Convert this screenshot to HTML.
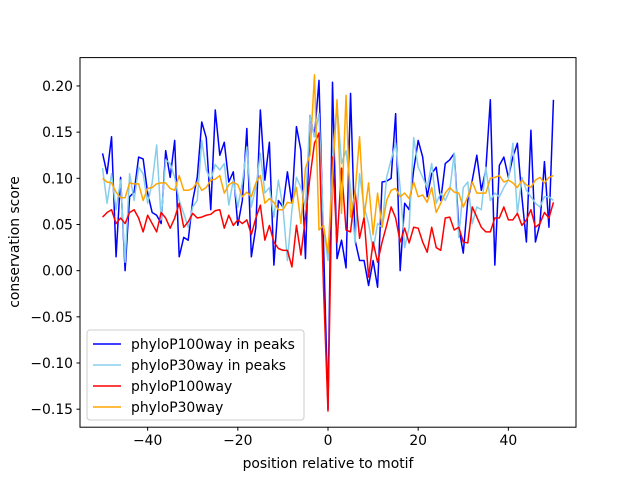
<!DOCTYPE html>
<html><head><meta charset="utf-8"><style>
body{margin:0;background:#fff}
svg{display:block;font-family:"DejaVu Sans","Liberation Sans",sans-serif}
</style></head><body>
<svg id="chart" width="640" height="480" xmlns="http://www.w3.org/2000/svg">
<rect width="640" height="480" fill="#fff"/>
<g id="marks"></g>
<rect x="80" y="57.6" width="496" height="369.6" fill="none" stroke="#000" stroke-width="1"/>
<g id="axes"></g>
<text x="328" y="468" font-size="13.9" text-anchor="middle">position relative to motif</text>
<text transform="translate(19,242) rotate(-90)" font-size="13.9" text-anchor="middle">conservation score</text>
<g>
<rect x="87" y="330" width="217" height="90" rx="3" fill="#fff" fill-opacity="0.8" stroke="#ccc"/>
<line x1="93" y1="344" x2="121" y2="344" stroke="#0000ff" stroke-width="1.5"/>
<text x="131" y="349" font-size="13.9">phyloP100way in peaks</text>
<line x1="93" y1="365" x2="121" y2="365" stroke="#87ceeb" stroke-width="1.5"/>
<text x="131" y="370" font-size="13.9">phyloP30way in peaks</text>
<line x1="93" y1="386" x2="121" y2="386" stroke="#ff0000" stroke-width="1.5"/>
<text x="131" y="391" font-size="13.9">phyloP100way</text>
<line x1="93" y1="407" x2="121" y2="407" stroke="#ffa500" stroke-width="1.5"/>
<text x="131" y="412" font-size="13.9">phyloP30way</text>
</g>
</svg>
<script>
const xStart = -50;
const blueVals = [0.127,0.105,0.145,0.015,0.101,0.0,0.08,0.085,0.123,0.121,0.084,0.063,0.06,0.051,0.13,0.101,0.141,0.015,0.036,0.033,0.076,0.101,0.161,0.144,0.066,0.174,0.125,0.139,0.096,0.107,0.049,0.076,0.154,0.015,0.047,0.174,0.098,0.139,0.006,0.076,0.069,0.107,0.073,0.156,0.13,0.013,0.168,0.145,0.206,0.03,-0.15,0.204,0.013,0.033,0.003,0.192,0.033,0.011,0.011,-0.016,0.011,-0.018,0.096,0.097,0.1,0.17,0.0,0.073,0.066,0.109,0.141,0.123,0.08,0.105,0.112,0.076,0.116,0.12,0.127,0.047,0.019,0.076,0.098,0.125,0.087,0.109,0.185,0.006,0.114,0.123,0.101,0.123,0.138,0.08,0.031,0.152,0.031,0.051,0.118,0.047,0.185];
const lightBlueVals = [0.111,0.073,0.105,0.066,0.098,0.009,0.105,0.076,0.112,0.105,0.073,0.095,0.136,0.055,0.12,0.116,0.101,0.076,0.062,0.047,0.069,0.076,0.141,0.109,0.098,0.115,0.109,0.116,0.071,0.098,0.069,0.095,0.134,0.069,0.09,0.127,0.084,0.09,0.058,0.098,0.069,0.011,0.066,0.101,0.09,0.069,0.168,0.145,0.17,0.047,0.011,0.12,0.181,0.116,0.13,0.09,0.03,0.105,0.069,0.051,0.022,0.051,0.047,0.101,0.12,0.138,0.09,0.025,0.047,0.144,0.112,0.101,0.09,0.116,0.073,0.084,0.076,0.087,0.127,0.036,0.09,0.096,0.051,0.069,0.066,0.112,0.076,0.084,0.08,0.09,0.098,0.138,0.062,0.101,0.087,0.08,0.073,0.069,0.08,0.08,0.076];
const redVals = [0.058,0.063,0.066,0.051,0.057,0.051,0.063,0.066,0.057,0.042,0.06,0.051,0.042,0.063,0.057,0.046,0.057,0.073,0.047,0.053,0.062,0.057,0.058,0.06,0.061,0.065,0.066,0.046,0.06,0.049,0.055,0.051,0.055,0.039,0.057,0.071,0.033,0.049,0.031,0.024,0.022,0.022,0.004,0.049,0.017,0.058,0.101,0.138,0.149,-0.018,-0.152,0.123,0.03,0.111,0.044,0.042,0.087,0.035,0.058,-0.007,0.031,0.009,0.031,0.049,0.069,0.057,0.031,0.046,0.03,0.047,0.046,0.031,0.02,0.047,0.025,0.022,0.057,0.058,0.044,0.047,0.031,0.03,0.069,0.058,0.047,0.042,0.042,0.057,0.057,0.069,0.055,0.055,0.062,0.049,0.055,0.066,0.047,0.051,0.063,0.057,0.074];
const orangeVals = [0.1,0.096,0.095,0.085,0.079,0.079,0.095,0.094,0.094,0.076,0.089,0.09,0.094,0.095,0.095,0.089,0.087,0.103,0.087,0.087,0.089,0.096,0.087,0.09,0.098,0.099,0.103,0.084,0.093,0.096,0.093,0.08,0.085,0.08,0.095,0.103,0.073,0.078,0.074,0.066,0.066,0.074,0.073,0.09,0.051,0.111,0.125,0.212,0.044,0.049,0.019,0.101,0.185,0.062,0.19,0.058,0.084,0.145,0.058,0.095,0.039,0.084,0.047,0.076,0.087,0.089,0.08,0.084,0.078,0.096,0.08,0.082,0.074,0.09,0.063,0.073,0.084,0.09,0.085,0.084,0.069,0.08,0.096,0.084,0.084,0.084,0.1,0.101,0.103,0.096,0.098,0.095,0.09,0.098,0.093,0.09,0.098,0.101,0.095,0.101,0.103];
const xTicks = [-40,-20,0,20,40];
const yTicks = [-0.15,-0.10,-0.05,0.00,0.05,0.10,0.15,0.20];
const yTickLabels = ["−0.15","−0.10","−0.05","0.00","0.05","0.10","0.15","0.20"];

const L=80,R=576,T=57.6,B=427.2, xmin=-55,xmax=55, ymin=-0.1695,ymax=0.2307;
function sx(v){return L+(v-xmin)/(xmax-xmin)*(R-L);}
function sy(v){return B-(v-ymin)/(ymax-ymin)*(B-T);}
const NS="http://www.w3.org/2000/svg";
const marks=document.getElementById('marks');
const series=[[blueVals,'#0000ff','series-phylop100-in-peaks'],[lightBlueVals,'#87ceeb','series-phylop30-in-peaks'],[redVals,'#ff0000','series-phylop100'],[orangeVals,'#ffa500','series-phylop30']];
series.forEach(s=>{
  const p=document.createElementNS(NS,'polyline');
  p.setAttribute('points',s[0].map((v,i)=>sx(xStart+i).toFixed(2)+','+sy(v).toFixed(2)).join(' '));
  p.setAttribute('fill','none');p.setAttribute('stroke',s[1]);p.setAttribute('stroke-width','1.5');p.setAttribute('stroke-linejoin','round');
  
  
  marks.appendChild(p);
});
const axes=document.getElementById('axes');
xTicks.forEach(t=>{
  const x=sx(t);
  const l=document.createElementNS(NS,'line');
  l.setAttribute('x1',x);l.setAttribute('x2',x);l.setAttribute('y1',B);l.setAttribute('y2',B+3.5);l.setAttribute('stroke','#000');
  
  
  axes.appendChild(l);
  const tx=document.createElementNS(NS,'text');
  tx.setAttribute('x',x);tx.setAttribute('y',B+18);tx.setAttribute('font-size','13.9');tx.setAttribute('text-anchor','middle');
  tx.textContent=t<0?'−'+(-t):String(t);
  
  
  axes.appendChild(tx);
});
yTicks.forEach((t,i)=>{
  const y=sy(t);
  const l=document.createElementNS(NS,'line');
  l.setAttribute('x1',L-3.5);l.setAttribute('x2',L);l.setAttribute('y1',y);l.setAttribute('y2',y);l.setAttribute('stroke','#000');
  
  
  axes.appendChild(l);
  const tx=document.createElementNS(NS,'text');
  tx.setAttribute('x',L-7);tx.setAttribute('y',y+5);tx.setAttribute('font-size','13.9');tx.setAttribute('text-anchor','end');
  tx.textContent=yTickLabels[i];
  
  
  axes.appendChild(tx);
});
</script>
</body></html>
